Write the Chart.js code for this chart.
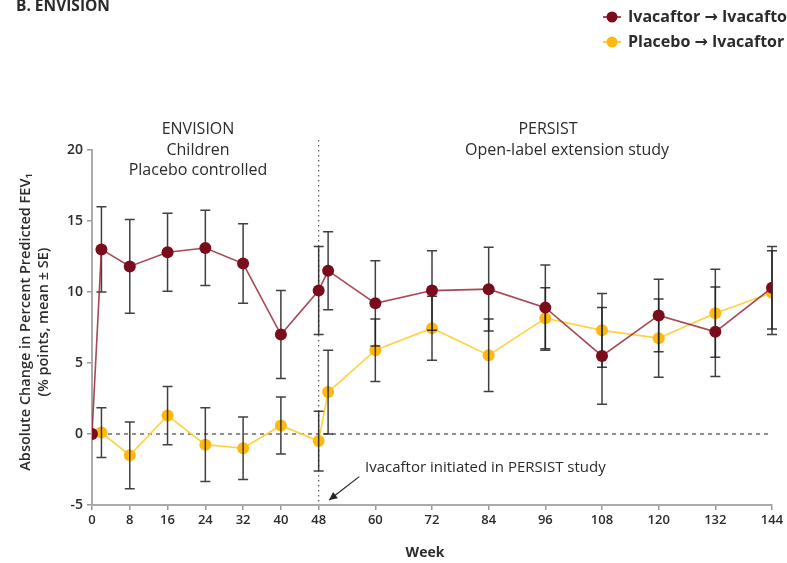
<!DOCTYPE html>
<html>
<head>
<meta charset="utf-8">
<script src="https://cdn.jsdelivr.net/npm/chart.js@4"></script>
<style>
    html, body { margin: 0; padding: 0; background: #fff; }
    #wrap { width: 787px; height: 563px; position: relative; }
</style>
</head>
<body>
<div id="wrap"><canvas id="fevChart"></canvas></div>
<script>
const weeks      = [0, 2, 8, 16, 24, 32, 40, 48, 50, 60, 72, 84, 96, 108, 120, 132, 144];
const ivaMean    = [0, 13.0, 11.8, 12.8, 13.1, 12.0, 7.0, 10.1, 11.5, 9.2, 10.1, 10.2, 8.9, 5.5, 8.35, 7.2, 10.3];
const ivaSE      = [0, 3.0, 3.3, 2.75, 2.65, 2.8, 3.1, 3.1, 2.75, 3.0, 2.8, 2.95, 3.0, 3.4, 2.55, 3.15, 2.9];
const pboMean    = [0, 0.1, -1.5, 1.3, -0.75, -1.0, 0.6, -0.5, 2.95, 5.9, 7.45, 5.55, 8.15, 7.3, 6.75, 8.5, 9.95];
const pboSE      = [0, 1.75, 2.35, 2.05, 2.6, 2.2, 2.0, 2.1, 2.95, 2.2, 2.25, 2.55, 2.15, 2.6, 2.75, 3.1, 2.95];
const xTickVals  = [0, 8, 16, 24, 32, 40, 48, 60, 72, 84, 96, 108, 120, 132, 144];
const seriesNames = ['Ivacaftor \u2192 Ivacaftor', 'Placebo \u2192 Ivacaftor'];

const FONT   = '"Open Sans", "DejaVu Sans", sans-serif';
const RED    = '#7a0c1c';
const RED_LN = 'rgba(150, 40, 55, 0.85)';
const YEL    = '#fdb813';
const YEL_LN = '#ffd23a';
const TXT    = '#2b2b2b';

const errorSets = [ivaSE, pboSE];
const meanSets  = [ivaMean, pboMean];

// error bars go on top of the yellow series but under the red one
const errorBarPlugin = {
    id: 'errorBars',
    afterDatasetDraw(chart, args) {
        if (args.index !== 1) return;
        const ctx = chart.ctx;
        const xs = chart.scales.x, ys = chart.scales.y;
        ctx.save();
        ctx.strokeStyle = 'rgba(30,30,30,0.85)';
        ctx.lineWidth = 1.5;
        for (let d = 0; d < 2; d++) {
            for (let i = 0; i < weeks.length; i++) {
                let se = errorSets[d][i];
                if (!se) continue;
                let x  = xs.getPixelForValue(weeks[i]);
                let y1 = ys.getPixelForValue(meanSets[d][i] + se);
                let y2 = ys.getPixelForValue(meanSets[d][i] - se);
                ctx.beginPath();
                ctx.moveTo(x, y1); ctx.lineTo(x, y2);
                ctx.moveTo(x - 5, y1); ctx.lineTo(x + 5, y1);
                ctx.moveTo(x - 5, y2); ctx.lineTo(x + 5, y2);
                ctx.stroke();
            }
        }
        ctx.restore();
    }
};

const decorPlugin = {
    id: 'decor',
    beforeDatasetsDraw(chart) {
        const ctx = chart.ctx;
        const xs = chart.scales.x, ys = chart.scales.y;
        const area = chart.chartArea;
        ctx.save();
        // zero reference line
        ctx.strokeStyle = '#444';
        ctx.lineWidth = 1.2;
        ctx.setLineDash([4, 4]);
        ctx.beginPath();
        ctx.moveTo(area.left, ys.getPixelForValue(0));
        ctx.lineTo(area.right, ys.getPixelForValue(0));
        ctx.stroke();
        // week 48 split
        ctx.strokeStyle = '#555';
        ctx.setLineDash([1.5, 3.5]);
        let x48 = xs.getPixelForValue(48);
        ctx.beginPath();
        ctx.moveTo(x48, area.top - 10);
        ctx.lineTo(x48, area.bottom);
        ctx.stroke();
        ctx.restore();
    },
    afterDraw(chart) {
        const ctx = chart.ctx;
        const xs = chart.scales.x, ys = chart.scales.y;
        const area = chart.chartArea;
        ctx.save();
        ctx.fillStyle = TXT;

        // panel title
        ctx.font = 'bold 15.5px ' + FONT;
        ctx.textAlign = 'left';
        ctx.textBaseline = 'middle';
        ctx.fillText('B. ENVISION', 16, 7);

        // legend
        const legendY = [17, 42];
        const legendFill = [RED, YEL];
        const legendLine = [RED_LN, YEL_LN];
        for (let i = 0; i < 2; i++) {
            ctx.strokeStyle = legendLine[i];
            ctx.lineWidth = 2;
            ctx.beginPath();
            ctx.moveTo(603, legendY[i]); ctx.lineTo(621, legendY[i]);
            ctx.stroke();
            ctx.fillStyle = legendFill[i];
            ctx.beginPath();
            ctx.arc(612, legendY[i], 5.5, 0, Math.PI * 2);
            ctx.fill();
            ctx.fillStyle = TXT;
            ctx.font = 'bold 16px ' + FONT;
            ctx.fillText(seriesNames[i], 628, legendY[i]);
        }

        // study period labels
        ctx.font = '16px ' + FONT;
        ctx.textAlign = 'center';
        ctx.fillText('ENVISION', 198, 129);
        ctx.fillText('Children', 198, 150);
        ctx.fillText('Placebo controlled', 198, 170);
        ctx.fillText('PERSIST', 548, 129);
        ctx.fillText('Open-label extension study', 567, 150);

        // arrow note
        ctx.font = '15px ' + FONT;
        ctx.textAlign = 'left';
        ctx.fillText('Ivacaftor initiated in PERSIST study', 365, 468);
        let hx = xs.getPixelForValue(50.2), hy = ys.getPixelForValue(-4.65);
        let tx = xs.getPixelForValue(56.6), ty = ys.getPixelForValue(-3.0);
        ctx.strokeStyle = '#222';
        ctx.lineWidth = 1.2;
        ctx.beginPath();
        ctx.moveTo(tx, ty); ctx.lineTo(hx, hy);
        ctx.stroke();
        let ang = Math.atan2(hy - ty, hx - tx);
        ctx.fillStyle = '#222';
        ctx.beginPath();
        ctx.moveTo(hx, hy);
        ctx.lineTo(hx - 9 * Math.cos(ang - 0.45), hy - 9 * Math.sin(ang - 0.45));
        ctx.lineTo(hx - 9 * Math.cos(ang + 0.45), hy - 9 * Math.sin(ang + 0.45));
        ctx.closePath();
        ctx.fill();

        // axis titles
        ctx.fillStyle = TXT;
        ctx.font = 'bold 14px ' + FONT;
        ctx.textAlign = 'center';
        ctx.fillText('Week', (area.left + area.right) / 2 - 7, 553);

        ctx.translate(0, 322);
        ctx.rotate(-Math.PI / 2);
        ctx.font = '600 14.5px ' + FONT;
        ctx.fillText('Absolute Change in Percent Predicted FEV\u2081', 0, 26);
        ctx.fillText('(% points, mean \u00b1 SE)', 0, 44);
        ctx.restore();
    }
};

const ctx = document.getElementById('fevChart');
new Chart(ctx, {
    type: 'line',
    data: {
        datasets: [
            {
                label: seriesNames[0],
                data: weeks.map((w, i) => ({ x: w, y: ivaMean[i] })),
                borderColor: RED_LN,
                backgroundColor: RED,
                pointBackgroundColor: RED,
                pointBorderWidth: 0,
                pointRadius: 6,
                borderWidth: 1.6,
                tension: 0
            },
            {
                label: seriesNames[1],
                data: weeks.map((w, i) => ({ x: w, y: pboMean[i] })),
                borderColor: YEL_LN,
                backgroundColor: YEL,
                pointBackgroundColor: YEL,
                pointBorderWidth: 0,
                pointRadius: 6,
                borderWidth: 1.6,
                tension: 0
            }
        ]
    },
    options: {
        responsive: true,
        maintainAspectRatio: false,
        animation: false,
        layout: { padding: { top: 150, right: 15, left: 0, bottom: 0 } },
        plugins: {
            legend: { display: false },
            tooltip: { enabled: false }
        },
        scales: {
            x: {
                type: 'linear',
                min: 0,
                max: 144,
                afterBuildTicks: s => { s.ticks = xTickVals.map(v => ({ value: v })); },
                afterFit: s => { s.height = 58; },
                grid: { drawOnChartArea: false, tickLength: 5, color: '#999', lineWidth: 1.5 },
                border: { color: '#aaa', width: 2 },
                ticks: {
                    autoSkip: false,
                    maxRotation: 0,
                    padding: 2,
                    color: TXT,
                    font: { family: FONT, size: 13, weight: '600' }
                }
            },
            y: {
                min: -5,
                max: 20,
                afterFit: s => { s.width = 92; },
                grid: { drawOnChartArea: false, tickLength: 5, color: '#999', lineWidth: 1.5 },
                border: { color: '#aaa', width: 2 },
                ticks: {
                    stepSize: 5,
                    padding: 4,
                    color: TXT,
                    font: { family: FONT, size: 14, weight: '600' }
                }
            }
        }
    },
    plugins: [errorBarPlugin, decorPlugin]
});
</script>
</body>
</html>
